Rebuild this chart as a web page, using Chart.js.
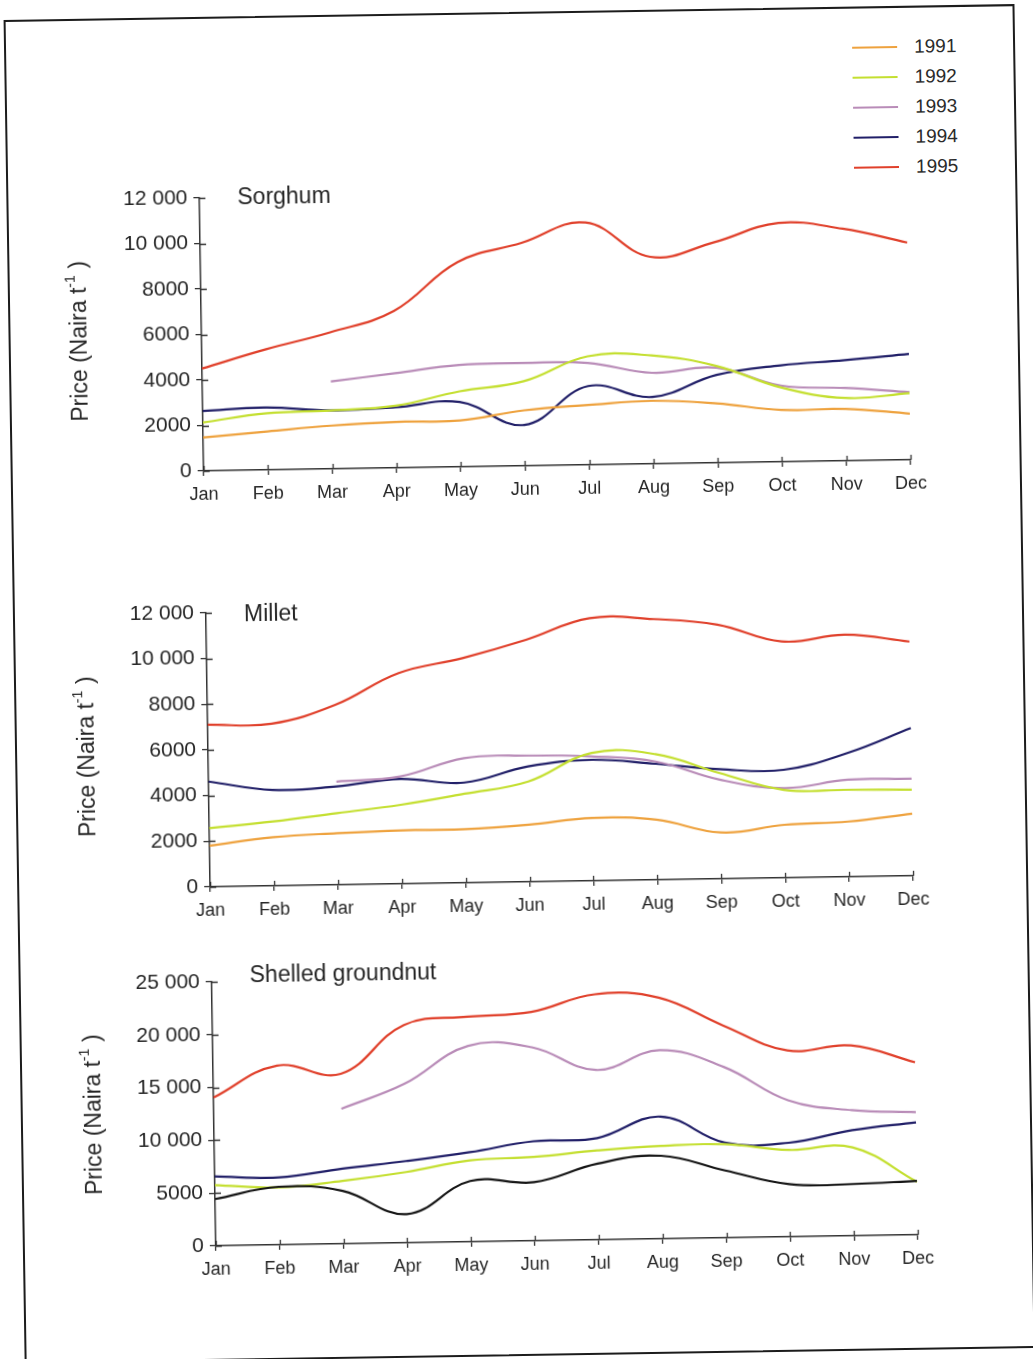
<!DOCTYPE html>
<html>
<head>
<meta charset="utf-8">
<script src="https://cdn.jsdelivr.net/npm/chart.js@4.4.1/dist/chart.umd.min.js"></script>
<style>
  html, body { margin: 0; padding: 0; background: #fff; }
  body { width: 1033px; height: 1359px; overflow: hidden; position: relative; }
  #page { position: absolute; left: 0; top: 0; width: 1033px; height: 1359px;
          transform: rotate(-0.9deg); transform-origin: 516.5px 679.5px; }
  #frame { position: absolute; left: 14px; top: 12px; width: 1007px; height: 1340px;
           border: 2px solid #1c1c1c; }
  canvas { position: absolute; left: 0; }
  .legText { position: absolute; font: 19px "Liberation Sans", Arial, sans-serif; color: #2a2a2a;
             line-height: 22px; }
  .legLine { position: absolute; height: 2px; width: 45px; }
</style>
</head>
<body>
<div id="page">
  <div id="frame"></div>
  <div id="legend"></div>
  <canvas id="sorghumChart"></canvas>
  <canvas id="milletChart"></canvas>
  <canvas id="groundnutChart"></canvas>
</div>
<script>
// Monthly market prices (Naira per tonne), 1991-1995
const months = ['Jan','Feb','Mar','Apr','May','Jun','Jul','Aug','Sep','Oct','Nov','Dec'];
const years = ['1991','1992','1993','1994','1995'];

const sorghum1991 = [1470,1690,1900,2020,2040,2440,2630,2770,2610,2280,2280,2030];
const sorghum1992 = [2130,2490,2570,2730,3320,3720,4770,4760,4260,3270,2760,2930];
const sorghum1993 = [null,null,3840,4160,4480,4520,4480,4000,4180,3350,3200,2970];
const sorghum1994 = [2630,2740,2570,2660,2850,1800,3460,2940,3860,4240,4420,4650];
const sorghum1995 = [4500,5300,6000,6900,9000,9800,10650,9100,9700,10500,10200,9550];

const millet1991 = [1800,2130,2260,2340,2350,2500,2750,2630,2030,2320,2420,2720];
const millet1992 = [2570,2820,3140,3460,3900,4390,5600,5500,4630,3850,3810,3770];
const millet1993 = [null,null,4520,4700,5460,5530,5450,5180,4340,3930,4250,4250];
const millet1994 = [4610,4200,4310,4590,4390,5050,5300,5080,4800,4730,5420,6470];
const millet1995 = [7100,7100,7880,9230,9840,10600,11500,11420,11130,10350,10600,10260];

const groundnut1991 = [4430,5490,5010,2710,5750,5550,7210,7860,6370,4980,4900,5110];
const groundnut1992 = [5750,5430,5950,6700,7700,7940,8460,8800,8860,8220,8370,5020];
const groundnut1993 = [null,null,12780,15070,18550,18320,16080,17860,16180,12930,11890,11620];
const groundnut1994 = [6570,6380,7120,7740,8480,9420,9630,11570,9010,8900,10000,10650];
const groundnut1995 = [14030,16970,16100,20630,21310,21680,23250,22830,20110,17650,18020,16340];

const sorghumTicks = [0, 2000, 4000, 6000, 8000, 10000, 12000];
const milletTicks = [0, 2000, 4000, 6000, 8000, 10000, 12000];
const groundnutTicks = [0, 5000, 10000, 15000, 20000, 25000];

const yearColors = ['#eea23e', '#c4df30', '#b98cb8', '#211f68', '#e0402b'];
const FONT = '"Liberation Sans", Arial, Helvetica, sans-serif';
const INK = '#262626';

// legend block
(function () {
  const leg = document.getElementById('legend');
  years.forEach((y, i) => {
    const cy = 52.6 + i * 30;
    const ln = document.createElement('div');
    ln.className = 'legLine';
    ln.style.left = '862px';
    ln.style.top = (cy - 1) + 'px';
    ln.style.background = yearColors[i];
    leg.appendChild(ln);
    const tx = document.createElement('div');
    tx.className = 'legText';
    tx.style.left = '924px';
    tx.style.top = (cy - 11) + 'px';
    tx.textContent = y;
    leg.appendChild(tx);
  });
})();

function fmt(v) {
  if (v >= 10000) {
    const s = String(v);
    return s.slice(0, s.length - 3) + ' ' + s.slice(-3);
  }
  return String(v);
}

// axis decorations: inner tick stubs, panel title and y-axis title with superscript
const decor = {
  id: 'decor',
  afterDraw(chart, args, opts) {
    const ctx = chart.ctx;
    const a = chart.chartArea;
    const xs = chart.scales.x, ys = chart.scales.y;
    ctx.save();
    ctx.strokeStyle = '#333';
    ctx.lineWidth = 1.3;
    ctx.beginPath();
    for (let i = 0; i < ys.ticks.length; i++) {
      const y = Math.round(ys.getPixelForTick(i)) + 0.5;
      ctx.moveTo(a.left, y);
      ctx.lineTo(a.left + 6, y);
    }
    for (let i = 0; i < xs.ticks.length; i++) {
      const x = Math.round(xs.getPixelForTick(i)) + 0.5;
      ctx.moveTo(x, a.bottom);
      ctx.lineTo(x, a.bottom - 5);
    }
    ctx.stroke();

    // panel title
    ctx.fillStyle = INK;
    ctx.font = '23px ' + FONT;
    ctx.textBaseline = 'middle';
    ctx.textAlign = 'left';
    ctx.fillText(opts.title, a.left + 38, a.top + opts.titleDy);

    // y-axis title
    const cx = opts.yTitleX, cy = (a.top + a.bottom) / 2 + opts.yTitleDy;
    ctx.translate(cx, cy);
    ctx.rotate(-Math.PI / 2);
    const big = '23px ' + FONT, small = '14px ' + FONT;
    const p1 = 'Price (Naira t', p2 = '-1', p3 = ' )';
    ctx.font = big; const w1 = ctx.measureText(p1).width, w3 = ctx.measureText(p3).width;
    ctx.font = small; const w2 = ctx.measureText(p2).width;
    let x0 = -(w1 + w2 + w3) / 2;
    ctx.font = big; ctx.fillText(p1, x0, 0); x0 += w1;
    ctx.font = small; ctx.fillText(p2, x0, -9); x0 += w2;
    ctx.font = big; ctx.fillText(p3, x0, 0);
    ctx.restore();
  }
};

function makeSets(series, firstColor) {
  return series.map((d, i) => ({
    label: years[i],
    data: d,
    borderColor: (i === 0 && firstColor) ? firstColor : yearColors[i],
    borderWidth: 2.2,
    pointRadius: 0,
    tension: 0.4,
    fill: false
  }));
}

function build(id, top, area, tickValues, series, title, titleDy, yTitleX, yTitleDy, firstColor) {
  const W = 960, xAxisH = 40, padB = 14;
  const H = Math.round(area.bottom - top + xAxisH + padB);
  const cv = document.getElementById(id);
  cv.width = W; cv.height = H;
  cv.style.width = W + 'px'; cv.style.height = H + 'px';
  cv.style.top = top + 'px';
  new Chart(cv, {
    type: 'line',
    data: { labels: months, datasets: makeSets(series, firstColor) },
    options: {
      responsive: false,
      animation: false,
      devicePixelRatio: 1,
      layout: { padding: { left: 0, right: W - area.right, top: area.top - top, bottom: padB } },
      plugins: {
        legend: { display: false },
        tooltip: { enabled: false },
        decor: { title, titleDy, yTitleX, yTitleDy }
      },
      scales: {
        x: {
          offset: false,
          grid: { display: true, drawOnChartArea: false, tickLength: 5, color: '#333', lineWidth: 1.3 },
          border: { display: true, color: '#333', width: 1.5 },
          ticks: { color: INK, font: { family: FONT, size: 18 }, padding: 8, maxRotation: 0, autoSkip: false },
          afterFit(s) { s.height = xAxisH; }
        },
        y: {
          min: tickValues[0],
          max: tickValues[tickValues.length - 1],
          afterBuildTicks(s) { s.ticks = tickValues.map(v => ({ value: v })); },
          grid: { display: true, drawOnChartArea: false, tickLength: 6, color: '#333', lineWidth: 1.3 },
          border: { display: true, color: '#333', width: 1.5 },
          ticks: { color: INK, font: { family: FONT, size: 21 }, padding: 6, callback: v => fmt(v) },
          afterFit(s) { s.width = area.left; }
        }
      }
    },
    plugins: [decor]
  });
}

build('sorghumChart', 160, { left: 207, right: 914, top: 193, bottom: 466 }, sorghumTicks,
  [sorghum1991, sorghum1992, sorghum1993, sorghum1994, sorghum1995], 'Sorghum', 1, 86, 5);
build('milletChart', 575, { left: 207, right: 910, top: 608, bottom: 881.5 }, milletTicks,
  [millet1991, millet1992, millet1993, millet1994, millet1995], 'Millet', 3, 87, 5);
build('groundnutChart', 935, { left: 207, right: 909, top: 977, bottom: 1241 }, groundnutTicks,
  [groundnut1991, groundnut1992, groundnut1993, groundnut1994, groundnut1995], 'Shelled groundnut', -5, 88, -1, '#151515');
</script>
</body>
</html>
